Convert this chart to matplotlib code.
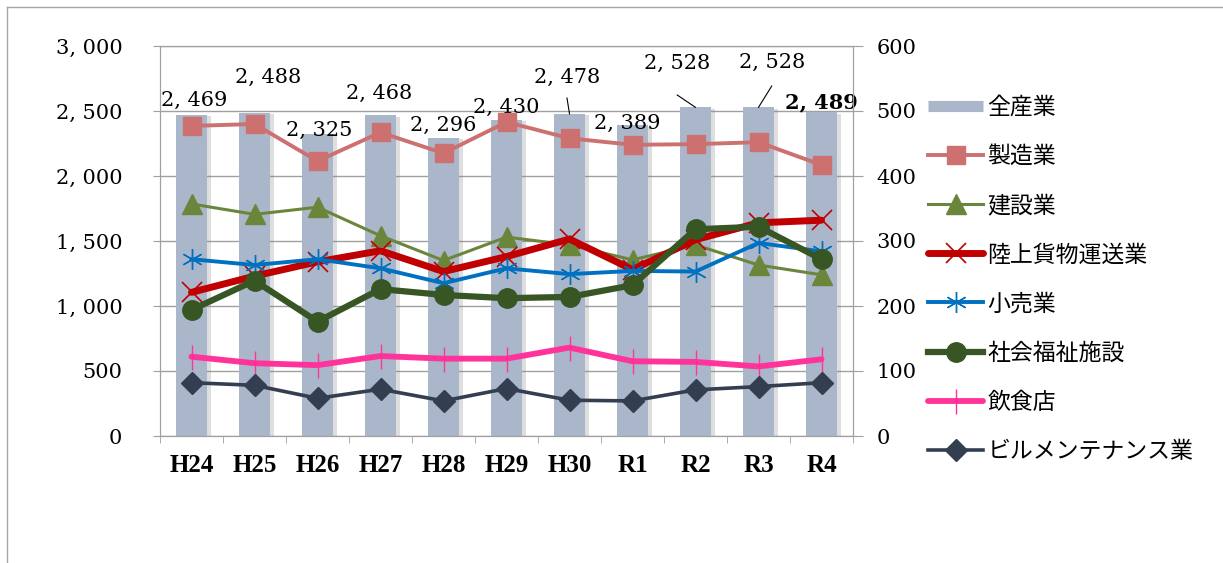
import matplotlib.pyplot as plt
import matplotlib.patheffects as pe
from matplotlib.lines import Line2D
import numpy as np

### データ ###
years = ['H24', 'H25', 'H26', 'H27', 'H28', 'H29', 'H30', 'R1', 'R2', 'R3', 'R4']
total = [2469, 2488, 2325, 2468, 2296, 2430, 2478, 2389, 2528, 2528, 2489]  # 全産業 (左軸)

manufacturing = [477, 480, 423, 467, 435, 483, 458, 448, 449, 452, 417]
construction = [357, 341, 352, 308, 270, 306, 294, 271, 294, 263, 248]
freight = [221, 246, 268, 285, 253, 276, 303, 256, 302, 328, 332]
retail = [272, 263, 272, 258, 235, 258, 249, 254, 253, 297, 284]
welfare = [194, 239, 176, 226, 217, 212, 214, 232, 318, 322, 272]
restaurant = [122, 112, 109, 123, 119, 119, 136, 115, 114, 107, 118]
building = [82, 78, 58, 72, 54, 73, 55, 54, 71, 76, 82]

# データラベルの位置 (Excelで手動移動されたもの)
label_dx = [0.04, 0.21, 0.02, -0.02, 0.0, 0.0, -0.04, -0.09, -0.29, 0.21, 0.0]
label_y = [2585, 2762, 2354, 2638, 2392, 2531, 2762, 2408, 2869, 2877, 2569]
leader_idx = [6, 8, 9]
leader_y0 = [2600, 2623, 2692]


def fmt(v):
    return '{:,}'.format(v).replace(',', ', ')


W, H = 1223, 563
fig = plt.figure(figsize=(W / 100, H / 100), dpi=100)
ax = fig.add_axes([160 / W, 127 / H, 693 / W, 390 / H])

grey = '#A0A0A0'
serif = 'DejaVu Serif'
x = np.arange(len(years))

### 棒グラフ (全産業) ###
bars = ax.bar(x, total, width=0.49, color='#AAB7CB', zorder=2)
for b in bars:
    b.set_path_effects([pe.SimplePatchShadow(offset=(3, -1), shadow_rgbFace='#7F7F7F', alpha=0.25),
                        pe.Normal()])

ax.set_xlim(-0.5, len(years) - 0.5)
ax.set_ylim(0, 3000)
ax.set_yticks(range(0, 3001, 500))
ax.set_yticklabels([fmt(v) for v in range(0, 3001, 500)], fontfamily=serif, fontsize=15)
ax.yaxis.grid(True, color=grey, lw=1)
ax.set_axisbelow(True)
ax.set_xticks(x)
ax.set_xticklabels(years, fontfamily='Liberation Serif', fontweight='bold', fontsize=18)
ax.set_xticks(np.arange(-0.5, len(years), 1), minor=True)
ax.tick_params(axis='x', which='major', length=0, pad=13)
ax.tick_params(axis='x', which='minor', length=5, color=grey)
ax.tick_params(axis='y', length=5, color=grey, pad=22)
for s in ax.spines.values():
    s.set_color(grey)

# データラベル
for i, v in enumerate(total):
    ax.text(i + label_dx[i], label_y[i], fmt(v), ha='center', va='center',
            fontfamily=serif, fontsize=15, zorder=4,
            fontweight='bold' if i == len(total) - 1 else 'normal')
for i, y0 in zip(leader_idx, leader_y0):
    ax.plot([i + label_dx[i], i], [y0, total[i]], color='black', lw=0.8, zorder=4)

### 折れ線 (右軸) ###
ax2 = ax.twinx()
ax2.set_ylim(0, 600)
ax2.set_yticks(range(0, 601, 100))
ax2.set_yticklabels([str(v) for v in range(0, 601, 100)], fontfamily=serif, fontsize=15)
ax2.tick_params(axis='y', length=7, color=grey, pad=10)
for s in ax2.spines.values():
    s.set_color(grey)

l1, = ax2.plot(x, manufacturing, color='#CD7070', lw=2.8, marker='s', ms=13, label='製造業')
l2, = ax2.plot(x, construction, color='#6A863A', lw=2.2, marker='^', ms=14, label='建設業')
l3, = ax2.plot(x, freight, color='#C00000', lw=5, marker='x', ms=14, mew=1.2,
               solid_capstyle='round', label='陸上貨物運送業')
l4, = ax2.plot(x, retail, color='#0070C0', lw=2.8, marker=(6, 2, 0), ms=15, mew=1.0,
               label='小売業')
l5, = ax2.plot(x, welfare, color='#375623', lw=4.5, marker='o', ms=14, label='社会福祉施設')
l6, = ax2.plot(x, restaurant, color='#FF3399', lw=4.2, marker='|', ms=18, mew=1.0,
               solid_capstyle='round', label='飲食店')
l7, = ax2.plot(x, building, color='#333F50', lw=2.6, marker='D', ms=11, label='ビルメンテナンス業')

### 凡例 ###
bar_handle = Line2D([], [], color='#AAB7CB', lw=8, solid_capstyle='butt')
handles = [bar_handle, l1, l2, l3, l4, l5, l6, l7]
labels = ['全産業', '製造業', '建設業', '陸上貨物運送業', '小売業', '社会福祉施設', '飲食店', 'ビルメンテナンス業']
fig.legend(handles, labels, loc='upper left', bbox_to_anchor=(928 / W, 1 - 96 / H),
           frameon=False, prop={'family': ['Noto Sans CJK JP'], 'size': 16.5},
           handlelength=2.4, handletextpad=0.2, labelspacing=1.14,
           borderpad=0, borderaxespad=0, numpoints=1)

### 外枠 ###
fig.add_artist(Line2D([7 / W, 7 / W], [0, 1 - 7 / H], transform=fig.transFigure,
                      color='#A6A6A6', lw=1))
fig.add_artist(Line2D([7 / W, 1], [1 - 7 / H, 1 - 7 / H], transform=fig.transFigure,
                      color='#A6A6A6', lw=1))

fig.savefig('out.png', dpi=100)
